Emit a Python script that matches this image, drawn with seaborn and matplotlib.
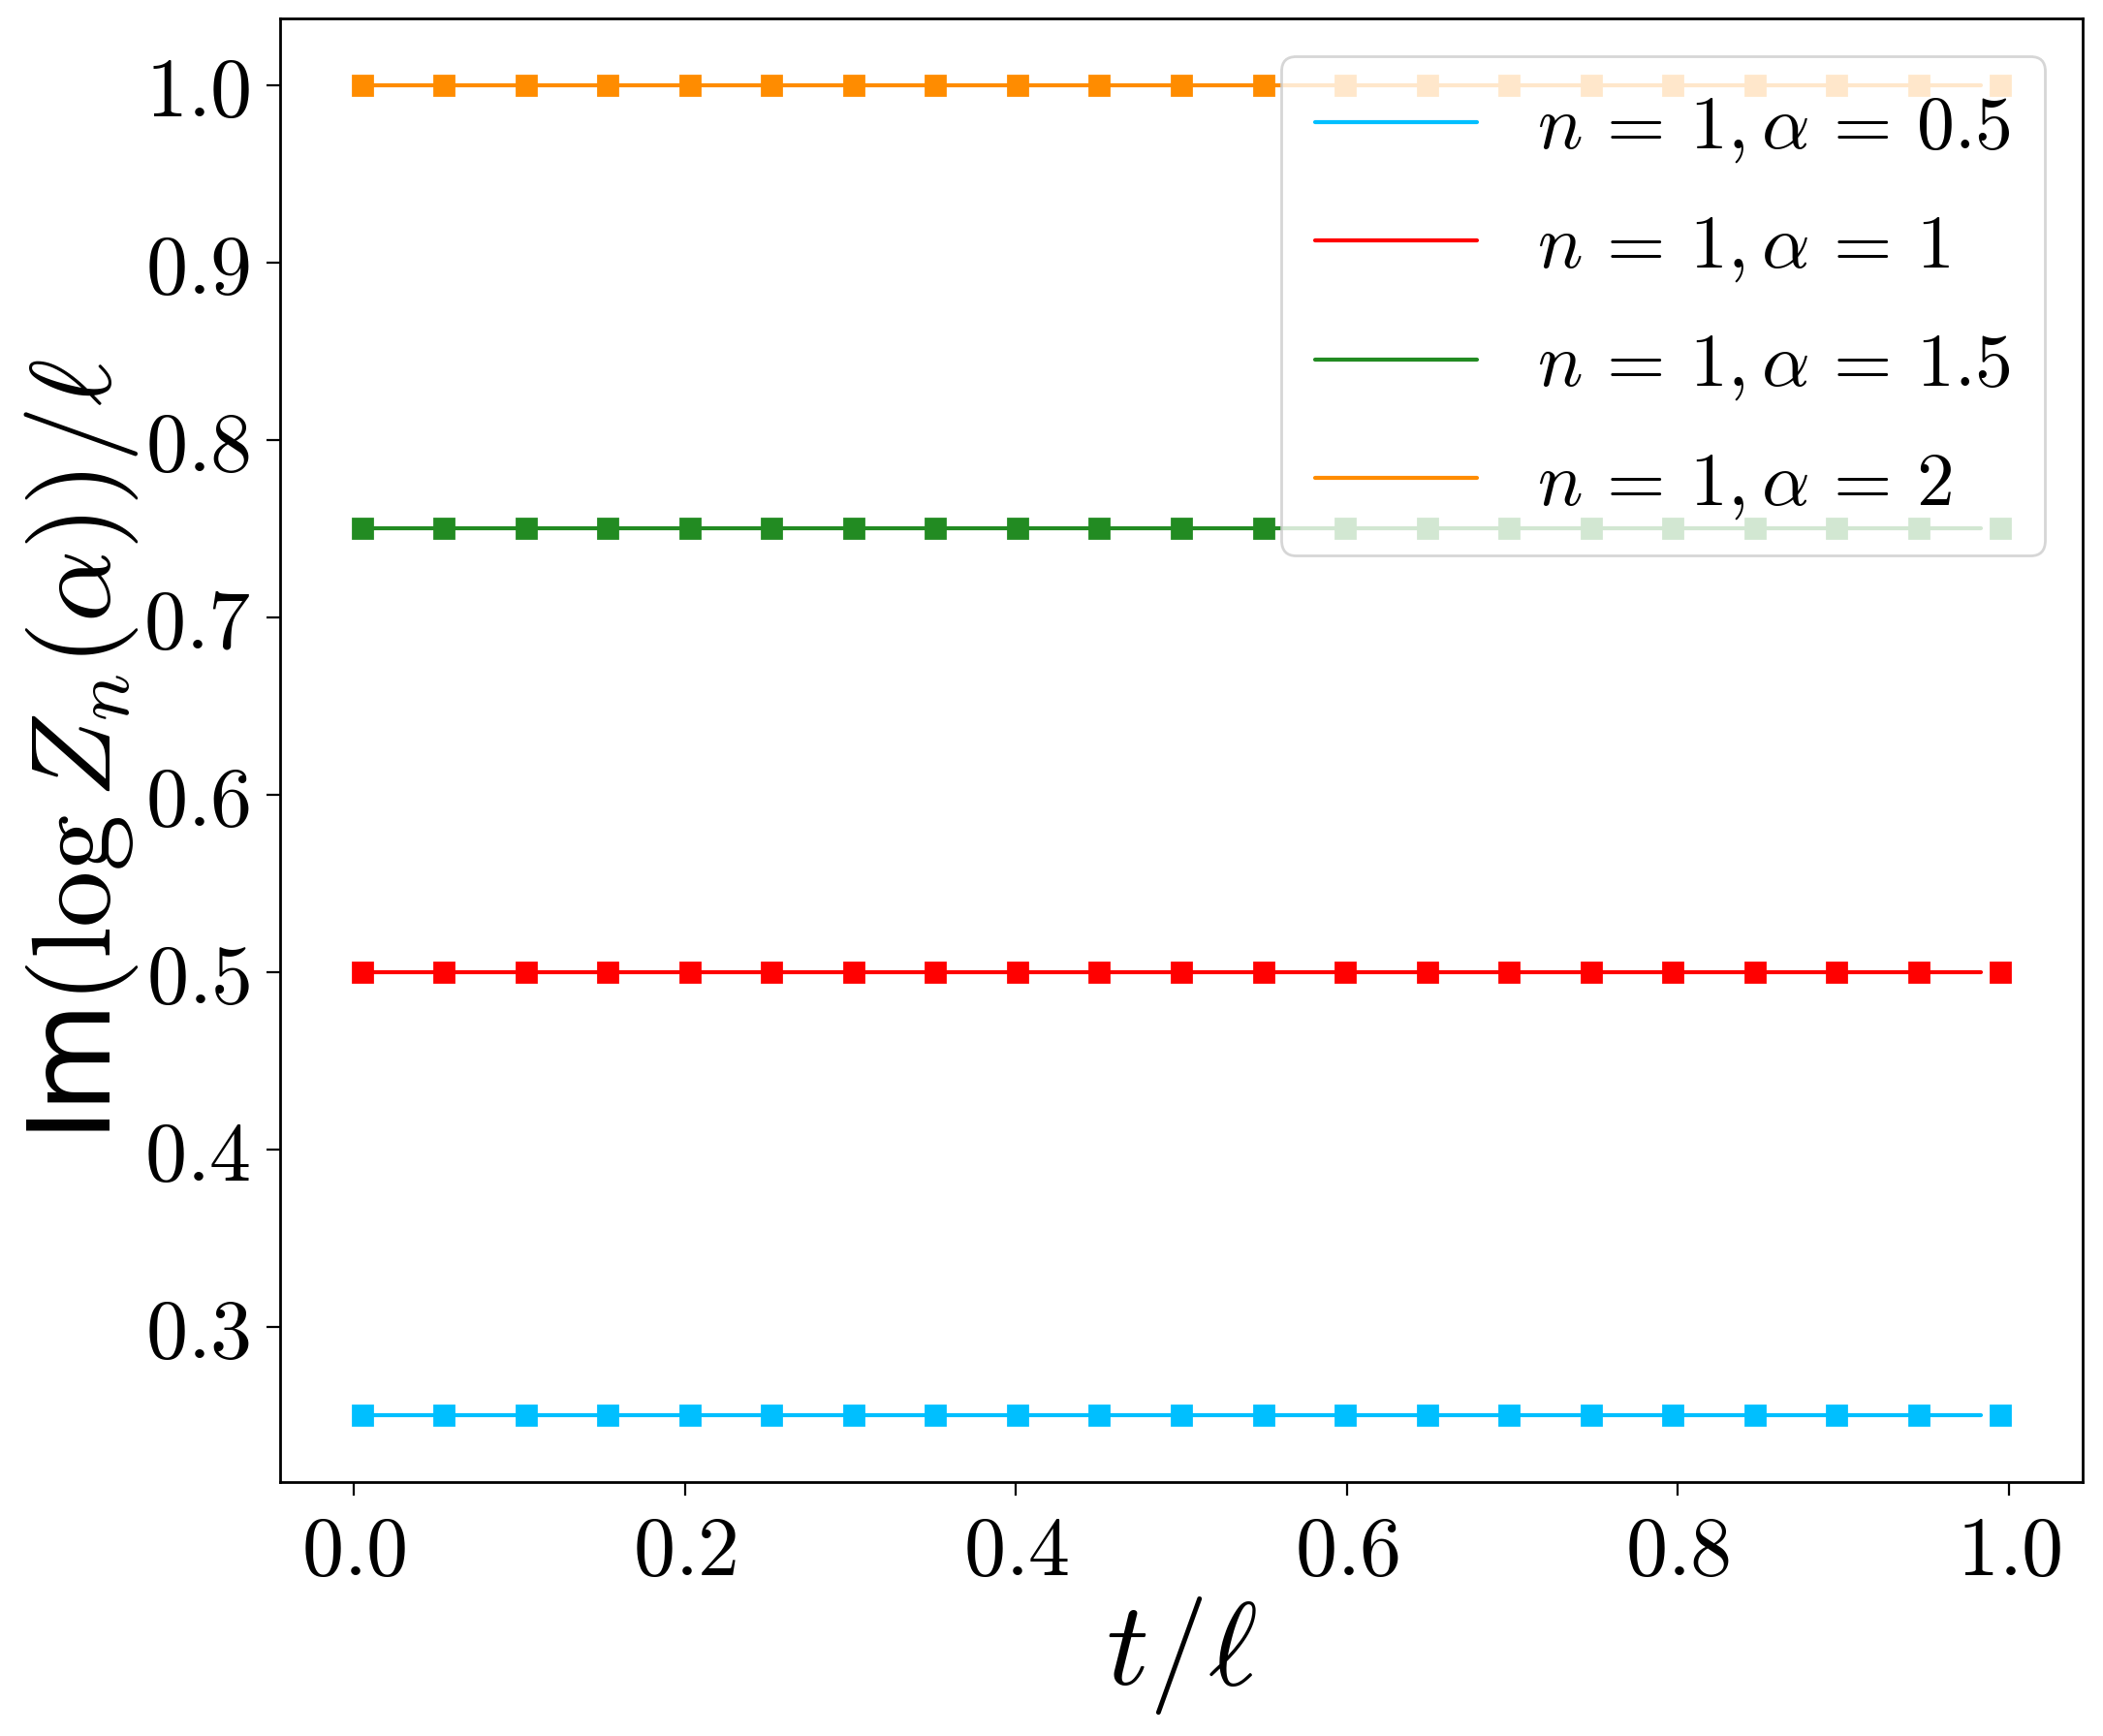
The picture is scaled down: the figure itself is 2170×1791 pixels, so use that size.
import matplotlib
matplotlib.use("Agg")
import matplotlib.pyplot as plt
import matplotlib.ticker as mticker
import seaborn as sns
import pandas as pd

# ---- data ----
labels = [r"$n\,=\,1,\alpha\,=\,0.5$", r"$n\,=\,1,\alpha\,=\,1$",
          r"$n\,=\,1,\alpha\,=\,1.5$", r"$n\,=\,1,\alpha\,=\,2$"]
colors = ["#00BFFF", "#FF0000", "#228B22", "#FF8C00"]
values = [0.25, 0.5, 0.75, 1.0]
t_points = [0.005, 0.0545, 0.104, 0.1535, 0.203, 0.2525, 0.302, 0.3515, 0.401, 0.4505,
            0.5, 0.5495, 0.599, 0.6485, 0.698, 0.7475, 0.797, 0.8465, 0.896, 0.9455, 0.995]
t_line = [0.005, 0.983]
xticks = [0.0, 0.2, 0.4, 0.6, 0.8, 1.0]
yticks = [0.3, 0.4, 0.5, 0.6, 0.7, 0.8, 0.9, 1.0]

sns.set_style("white")
plt.rcParams["mathtext.fontset"] = "cm"
plt.rcParams["font.family"] = ["DejaVu Sans"]
plt.rcParams["text.color"] = "black"
plt.rcParams["axes.labelcolor"] = "black"
plt.rcParams["xtick.color"] = "black"
plt.rcParams["ytick.color"] = "black"

fig = plt.figure(figsize=(10.85, 8.955), dpi=200)
ax = fig.add_axes([289 / 2170, 1 - 1529 / 1791, (2149 - 289) / 2170, (1529 - 19) / 1791])

for lab, col, v in zip(labels, colors, values):
    dl = pd.DataFrame({"t": t_line, "y": [v] * len(t_line)})
    sns.lineplot(data=dl, x="t", y="y", ax=ax, color=col, lw=1.5, label=lab)
for lab, col, v in zip(labels, colors, values):
    dp = pd.DataFrame({"t": t_points, "y": [v] * len(t_points)})
    ax.plot(dp["t"], dp["y"], ls="none", marker="s", ms=7.5, color=col)

ax.set_xlim(-0.0445, 1.0445)
ax.set_ylim(0.2125, 1.0375)
ax.set_xticks(xticks)
ax.set_yticks(yticks)
fmt = mticker.FuncFormatter(lambda x, p: f"${x:.1f}$")
ax.xaxis.set_major_formatter(fmt)
ax.yaxis.set_major_formatter(fmt)
ax.tick_params(axis="both", which="major", labelsize=31, direction="out", length=5,
               width=0.8, bottom=True, left=True, pad=6, colors="black")
for s in ax.spines.values():
    s.set_color("black")
    s.set_linewidth(1.0)

ax.set_xlabel(r"$t/\ell$", fontsize=44, labelpad=1)
ax.set_ylabel(r"Im$(\log Z_n(\alpha))/\ell$", fontsize=42, labelpad=1)

leg = ax.legend(loc="upper right", fontsize=28, frameon=True, framealpha=0.8,
                labelspacing=0.58, handlelength=2.15, borderpad=0.45)
leg.get_frame().set_edgecolor("#cccccc")
for t in leg.get_texts():
    t.set_color("black")

fig.savefig("out.png", dpi=200)
